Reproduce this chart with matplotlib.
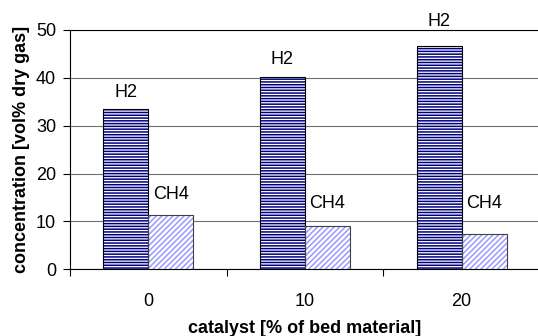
import matplotlib.pyplot as plt
import numpy as np

plt.rcParams["font.family"] = ["Liberation Sans", "DejaVu Sans"]
plt.rcParams["hatch.linewidth"] = 1.1

# Data
catalyst = ["0", "10", "20"]
h2 = [33.4, 40.1, 46.6]
ch4 = [11.3, 9.1, 7.4]
series_names = ["H2", "CH4"]

# label lift above bar top (pixels)
H2_LIFT = [17, 18, 25]
CH4_LIFT = [21, 22, 30]

fig = plt.figure(figsize=(5.38, 3.36), dpi=100)
ax = fig.add_axes([70 / 538, 1 - 269.3 / 336, 470 / 538, (269.3 - 30) / 336])

x = np.arange(len(catalyst))
w = 0.2875

for vals, off, hatch, hcol, ecol, name, lift in [
    (h2, -w / 2, "------", "#000080", "black", series_names[0], H2_LIFT),
    (ch4, w / 2, "//////", "#9999ff", "#404040", series_names[1], CH4_LIFT),
]:
    ax.bar(x + off, vals, w, color="white", edgecolor=hcol, hatch=hatch,
           linewidth=0, zorder=3)
    ax.bar(x + off, vals, w, fill=False, edgecolor=ecol, linewidth=0.8,
           zorder=4)
    for xi, v, dy in zip(x + off, vals, lift):
        ax.annotate(name, (xi, v), xytext=(0, dy * 0.72),
                    textcoords="offset points", ha="center", va="center",
                    fontsize=13)

ax.set_xlim(-0.5, len(catalyst) - 0.5)
ax.set_ylim(0, 50)
ax.set_yticks(range(0, 51, 10))
ax.set_xticks(x)
ax.set_xticklabels(catalyst)
ax.set_xticks(np.arange(-0.5, len(catalyst), 1.0), minor=True)
ax.tick_params(axis="x", which="major", length=0, pad=17, labelsize=13)
ax.tick_params(axis="x", which="minor", length=5, width=0.8, direction="out")
ax.tick_params(axis="y", length=5, width=0.8, direction="out", pad=5,
               labelsize=13)
ax.grid(axis="y", color="#707070", linewidth=0.8, zorder=0)
ax.set_axisbelow(True)

ax.spines["right"].set_visible(False)
ax.spines["top"].set_color("black")
ax.spines["top"].set_linewidth(0.8)
ax.spines["left"].set_linewidth(0.8)
ax.spines["bottom"].set_linewidth(0.8)

ax.set_xlabel("catalyst [% of bed material]", fontsize=13, fontweight="bold",
              labelpad=7)
ax.set_ylabel("concentration [vol% dry gas]", fontsize=13, fontweight="bold",
              labelpad=4)

fig.savefig("out.png", dpi=100)
